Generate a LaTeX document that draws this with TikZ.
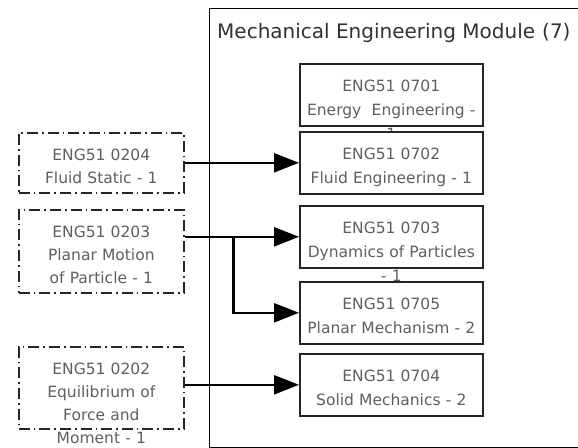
\documentclass[tikz,border=0pt]{standalone}
\usepackage{fontspec}
\setmainfont{DejaVu Sans}
\usetikzlibrary{positioning, arrows.meta}
\definecolor{boxtext}{RGB}{95,95,95}
\definecolor{titletext}{RGB}{50,50,50}
\newcommand{\prereqarrow}{-{Triangle[length=25pt,width=19pt]}}

\begin{document}
\begin{tikzpicture}[x=1pt, y=-1pt,
    course/.style={draw=black!85, line width=1.6pt, fill=white,
        text=boxtext, font=\fontsize{15.5}{24}\selectfont,
        text width=180pt, align=center, inner xsep=1.5pt, inner ysep=3.5pt,
        text height=24pt, text depth=31pt},
    prereq/.style={draw=black!85, line width=1.6pt, fill=white,
        dash pattern=on 11pt off 4pt on 1.6pt off 4pt,
        text=boxtext, font=\fontsize{15.5}{23}\selectfont,
        text width=162pt, align=center, inner xsep=1.5pt, inner ysep=3.5pt,
        text height=24pt, text depth=#1},
    link/.style={line width=2.4pt}]
        \useasboundingbox (0,0) rectangle (578,447);
        \node[draw, line width=1.4pt, minimum width=400pt, minimum height=438.5pt,
            anchor=north west, inner sep=0pt] (module) at (209,8) {};
        \node[anchor=base west, inner sep=0pt, text=titletext,
            font=\fontsize{20}{23}\selectfont] (title) at (217,38)
            {Mechanical Engineering Module\hspace{7pt}(7)};
        \node[course, anchor=north west] (m0701) at (299,63)
            {ENG51 0701\\Energy\ \ Engineering -\\1};
        \node[course, below=4.4pt of m0701] (m0702) {ENG51 0702\\Fluid Engineering - 1};
        \node[course, below=10.4pt of m0702] (m0703) {ENG51 0703\\Dynamics of Particles\\- 1};
        \node[course, below=12.4pt of m0703] (m0705) {ENG51 0705\\Planar Mechanism - 2};
        \node[course, below=8.4pt of m0705] (m0704) {ENG51 0704\\Solid Mechanics - 2};
        \node[prereq=29pt, anchor=north west] (p0204) at (18,132)
            {ENG51 0204\\Fluid Static - 1};
        \node[prereq=52pt, anchor=north west] (p0203) at (18,209)
            {ENG51 0203\\Planar Motion\\of Particle - 1};
        \node[prereq=51pt, anchor=north west] (p0202) at (18,346)
            {ENG51 0202\\Equilibrium of\\Force and\\Moment - 1};
        \coordinate (fork) at ([xshift=49pt]m0703.west -| p0203.east);
        \draw[link, \prereqarrow] (m0702.west -| p0204.east) -- (m0702.west);
        \draw[link, \prereqarrow] (m0703.west -| p0203.east) -- (m0703.west);
        \draw[link, \prereqarrow] (fork) |- (m0705.west);
        \draw[link, \prereqarrow] (m0704.west -| p0202.east) -- (m0704.west);
\end{tikzpicture}
\end{document}
